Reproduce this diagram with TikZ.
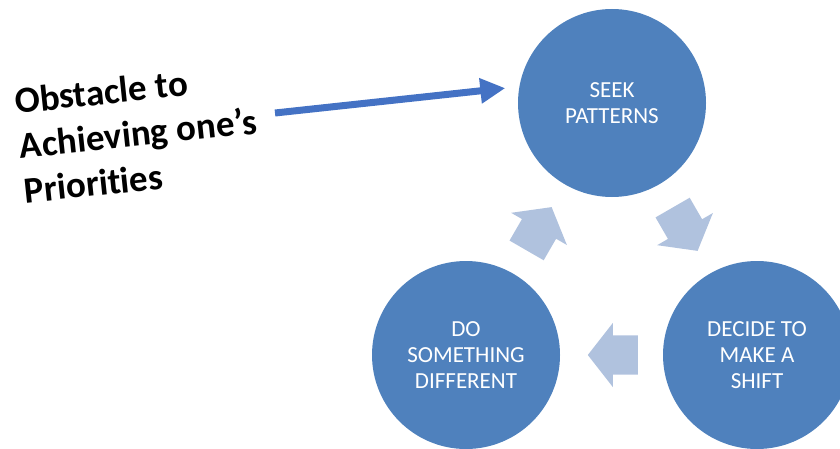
\documentclass[tikz,border=0pt]{standalone}
\usepackage{fontspec}
\setmainfont{Carlito}[Ligatures=CommonOff]
\usetikzlibrary{arrows.meta,shapes.arrows}

\definecolor{stageblue}{RGB}{79,129,189}
\definecolor{paleblue}{RGB}{176,194,222}
\definecolor{pointblue}{RGB}{68,114,196}

\begin{document}
\begin{tikzpicture}[x=1pt,y=1pt,
    stage/.style={circle, fill=stageblue, minimum size=188pt, inner sep=0pt,
        text=white, align=center, font=\fontsize{23}{26}\selectfont},
    cyc/.style={single arrow, fill=paleblue, minimum height=50pt,
        inner xsep=0pt, inner ysep=19.5pt, single arrow head extend=12.5pt,
        single arrow tip angle=104, anchor=tail},
    note/.style={align=left, font=\bfseries\fontsize{37}{45}\selectfont}]

    \useasboundingbox (0,0) rectangle (840,448);

    % the three stages
    \node[stage] (seek) at (612,345) {SEEK\\PATTERNS};
    \node[stage] (shift) at (757,93) {DECIDE TO\\MAKE A\\SHIFT};
    \node[stage] (diff) at (466,93) {DO\\SOMETHING\\DIFFERENT};

    % cycle arrows
    \node[cyc, rotate=-60] (a1) at (672.5,240.6) {};
    \node[cyc, rotate=180] (a2) at (638,93) {};
    \node[cyc, rotate=60] (a3) at (526.5,197.4) {};

    % obstacle
    \node[note, anchor=west, rotate=6] (obst) at (16,302)
        {Obstacle to\\Achieving one’s\\Priorities};
    \coordinate (tail) at (275,335);
    \draw[pointblue, line width=7pt, -{Triangle[width=24pt,length=25pt]},
        shorten >=14pt] (tail) -- (seek.170);
\end{tikzpicture}
\end{document}
